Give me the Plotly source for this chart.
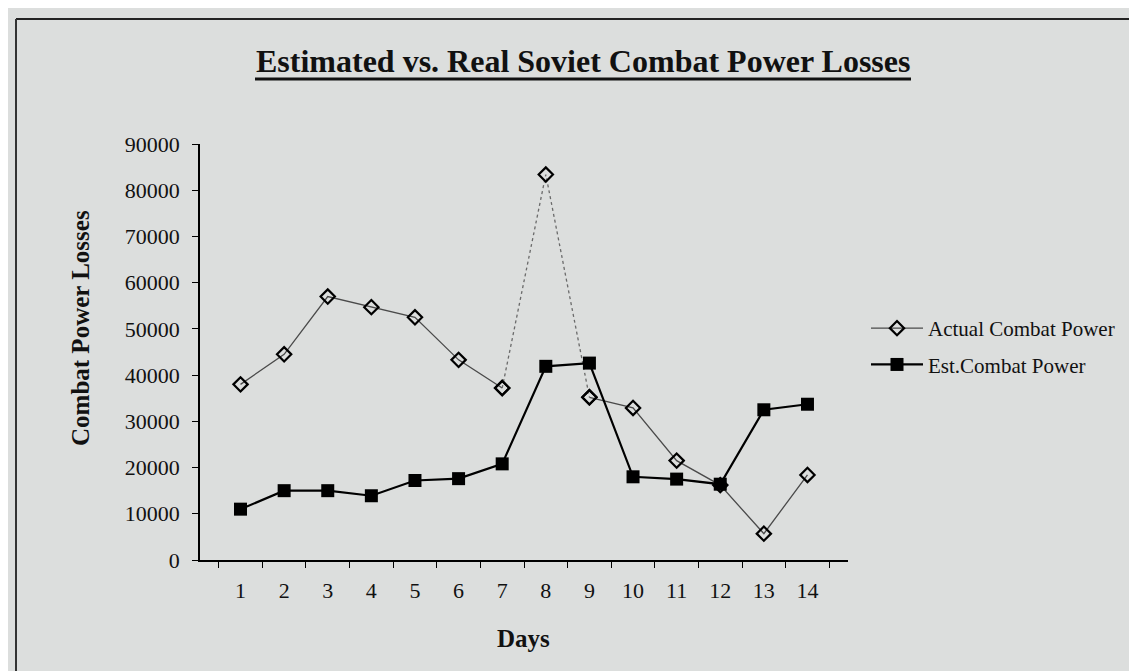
import plotly.graph_objects as go

days = [str(d) for d in range(1, 15)]
actual = [38000, 44500, 57000, 54700, 52500, 43300, 37200, 83400, 35200, 32900, 21500, 16200, 5700, 18400]
estimated = [11000, 15000, 15000, 13900, 17200, 17600, 20800, 41900, 42600, 18000, 17500, 16400, 32500, 33700]
y_ticks = [0, 10000, 20000, 30000, 40000, 50000, 60000, 70000, 80000, 90000]

BG = "#dcdedd"
FONT = "Liberation Serif"

# plot area in pixels
W, H = 1137, 671
L, R, T, B = 192, 840, 136, 552

def px(x):
    return (x - L) / (R - L)

def py(y):
    return (B - y) / (B - T)

# the steep segments around day 8 appear dotted in the scan
i8 = days.index("8")
actual_solid = [None if i == i8 else v for i, v in enumerate(actual)]

fig = go.Figure()
fig.add_trace(go.Scatter(
    x=days, y=actual_solid, mode="lines+markers", name="Actual Combat Power",
    line=dict(color="#4a4a4a", width=1.3),
    marker=dict(symbol="diamond-open", size=11, color="black", line=dict(width=2.2, color="black")),
    legendgroup="a", connectgaps=False,
))
fig.add_trace(go.Scatter(
    x=days[i8 - 1:i8 + 2], y=actual[i8 - 1:i8 + 2], mode="lines+markers", name="Actual Combat Power",
    line=dict(color="#6a6a6a", width=1.3, dash="dot"),
    marker=dict(symbol="diamond-open", size=11, color="black", line=dict(width=2.2, color="black")),
    legendgroup="a", showlegend=False,
))
fig.add_trace(go.Scatter(
    x=days, y=estimated, mode="lines+markers", name="Est.Combat Power",
    line=dict(color="black", width=2.2),
    marker=dict(symbol="square", size=13, color="black"),
    legendgroup="b",
))

fig.update_layout(
    width=W, height=H,
    margin=dict(l=L, r=W - R, t=T, b=H - B, pad=0),
    paper_bgcolor=BG, plot_bgcolor=BG,
    font=dict(family=FONT, size=22, color="#111"),
    showlegend=True,
    legend=dict(
        x=px(858), y=py(300), xanchor="left", yanchor="top",
        bgcolor="rgba(0,0,0,0)", font=dict(family=FONT, size=21, color="#111"),
        itemwidth=52, tracegroupgap=6, traceorder="grouped",
    ),
    xaxis=dict(
        type="category", tickson="boundaries", showgrid=False, zeroline=False,
        showline=True, linecolor="black", linewidth=2,
        ticks="outside", ticklen=6, tickcolor="black", tickwidth=1,
        tickfont=dict(family=FONT, size=22), ticklabelstandoff=10,
    ),
    yaxis=dict(
        range=[0, 90000], tickvals=y_ticks, tickformat="d",
        showgrid=False, zeroline=False,
        showline=True, linecolor="black", linewidth=1.5,
        ticks="outside", ticklen=6, tickcolor="black", tickwidth=1,
        tickfont=dict(family=FONT, size=22), ticklabelstandoff=8,
    ),
    annotations=[
        dict(text="<b>Estimated vs. Real Soviet Combat Power Losses</b>", x=px(575), y=py(53),
             xref="paper", yref="paper", showarrow=False, xanchor="center", yanchor="middle",
             font=dict(family=FONT, size=32, color="#111")),
        dict(text="<b>Combat Power Losses</b>", x=px(72), y=py(320), textangle=-90,
             xref="paper", yref="paper", showarrow=False, xanchor="center", yanchor="middle",
             font=dict(family=FONT, size=25, color="#111")),
        dict(text="<b>Days</b>", x=px(515), y=py(630),
             xref="paper", yref="paper", showarrow=False, xanchor="center", yanchor="middle",
             font=dict(family=FONT, size=25, color="#111")),
    ],
    shapes=[
        # title underline
        dict(type="line", xref="paper", yref="paper", x0=px(247), x1=px(903), y0=py(71), y1=py(71),
             line=dict(color="#111", width=3)),
        # outer frame (top and left edges visible)
        dict(type="line", xref="paper", yref="paper", x0=px(8), x1=px(W + 5), y0=py(11), y1=py(11),
             line=dict(color="#222", width=2)),
        dict(type="line", xref="paper", yref="paper", x0=px(8), x1=px(8), y0=py(11), y1=py(H + 5),
             line=dict(color="#333", width=2)),
    ],
)

fig.write_html("out.html")
